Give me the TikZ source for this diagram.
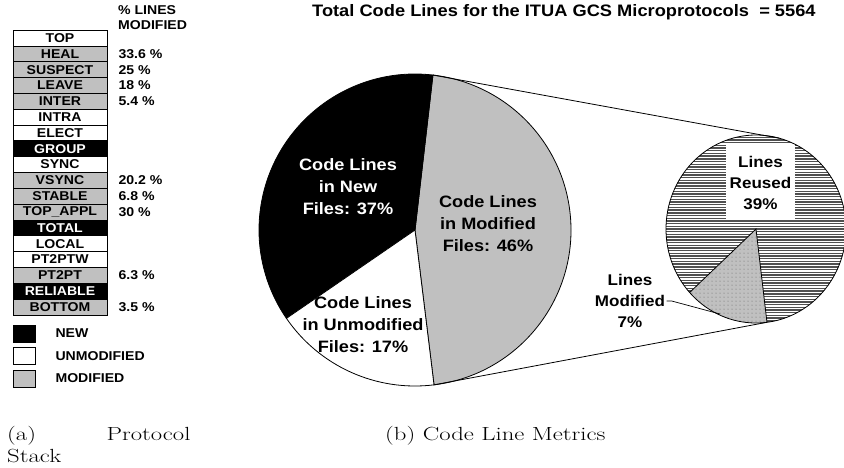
\documentclass[tikz,border=0pt]{standalone}
\usepackage{fontspec}
\usepackage{graphicx}
\setsansfont{Liberation Sans}[FakeStretch=1.1]
\definecolor{modgray}{RGB}{192,192,192}
\definecolor{hatchgray}{RGB}{80,80,80}
\definecolor{dotgray}{RGB}{100,100,100}

\begin{document}
\begin{tikzpicture}[x=1pt,y=-1pt,
  sfb/.style={font=\sffamily\bfseries\fontsize{12.8}{15}\selectfont},
  layer/.style={sfb, draw=black, line width=0.7pt, minimum width=94pt,
    minimum height=15.82pt, inner sep=0},
  lw/.style={fill=white, text=black},
  lg/.style={fill=modgray, text=black},
  lb/.style={fill=black, text=white},
  pctlbl/.style={sfb, anchor=west, inner sep=0},
  legbox/.style={draw=black, line width=0.7pt, minimum width=22pt,
    minimum height=17pt, inner sep=0},
  pielbl/.style={font=\sffamily\bfseries\fontsize{16.5}{22}\selectfont,
    align=center, inner sep=0},
  smalllbl/.style={font=\sffamily\bfseries\fontsize{15.5}{21}\selectfont,
    align=center},
  rim/.style={draw=black, line width=0.8pt},
  capfnt/.style={font=\rmfamily\mdseries\fontsize{19}{22}\selectfont,
    inner sep=0, anchor=base west}
]
\useasboundingbox (0,0) rectangle (844,467);

% ---- protocol stack ----
\node[sfb, anchor=north west, align=left, inner sep=0] (hdr) at (118,5)
  {\% LINES\\MODIFIED};
\foreach \name/\kind [count=\i] in {TOP/lw, HEAL/lg, SUSPECT/lg, LEAVE/lg,
    INTER/lg, INTRA/lw, ELECT/lw, GROUP/lb, SYNC/lw, VSYNC/lg, STABLE/lg,
    TOP\_APPL/lg, TOTAL/lb, LOCAL/lw, PT2PTW/lw, PT2PT/lg, RELIABLE/lb,
    BOTTOM/lg}
  \node[layer, \kind] (row\i) at (60,{30.1+15.82*(\i-0.5)}) {\name};
\foreach \i/\p in {2/33.6, 3/25, 4/18, 5/5.4, 10/20.2, 11/6.8, 12/30,
    16/6.3, 18/3.5}
  \node[pctlbl] (pct\i) at ([xshift=11pt]row\i.east) {\p\ \%};

% ---- legend ----
\node[legbox, fill=black]   (legnew) at (24,333.5) {};
\node[legbox, fill=white]   (legunm) at (24,356)   {};
\node[legbox, fill=modgray] (legmod) at (24,378.5) {};
\node[sfb, anchor=west] at (52,333.5) (txtnew) {NEW};
\node[sfb, anchor=west] at (52,356)   (txtunm) {UNMODIFIED};
\node[sfb, anchor=west] at (52,378.5) (txtmod) {MODIFIED};

% ---- title ----
\node[font=\sffamily\bfseries\fontsize{16.6}{18}\selectfont, anchor=west,
  inner sep=0] (title) at (312,12)
  {Total Code Lines for the ITUA GCS Microprotocols~ = 5564};

% ---- large pie ----
\begin{scope}[shift={(415,230)}, yscale=-1]
  \filldraw[rim, fill=modgray] (0,0) -- (-83:156)
    arc[start angle=-83, end angle=83.4, radius=156] -- cycle;
  \filldraw[rim, fill=black] (0,0) -- (83.4:156)
    arc[start angle=83.4, end angle=214.5, radius=156] -- cycle;
  \filldraw[rim, fill=white] (0,0) -- (214.5:156)
    arc[start angle=214.5, end angle=277, radius=156] -- cycle;
  \coordinate (bigtop) at (83.4:156);
  \coordinate (bigbot) at (-83:156);
\end{scope}

% ---- small pie ----
\begin{scope}[shift={(756,229)}, yscale=-1]
  \begin{scope}
    \clip (0,0) -- (277:90 and 94)
      arc[start angle=277, end angle=582.5, x radius=90, y radius=94] -- cycle;
    \fill[white] (-100,-100) rectangle (100,100);
    \foreach \k in {-36,...,36}
      \draw[hatchgray, line width=1.4pt] (-100,{\k*2.7}) -- (100,{\k*2.7});
  \end{scope}
  \begin{scope}
    \clip (0,0) -- (222.5:90 and 94)
      arc[start angle=222.5, end angle=277, x radius=90, y radius=94] -- cycle;
    \fill[modgray] (-100,-100) rectangle (100,100);
    \foreach \u in {-88,-84,...,16}
      \foreach \v in {-96,-92,...,0}
        \fill[dotgray] (\u,\v) circle[radius=0.5];
  \end{scope}
  \draw[rim] (0,0) ellipse[x radius=90, y radius=94];
  \draw[rim] (222.5:90 and 94) -- (0,0) -- (277:90 and 94);
  \coordinate (smalltop) at (75:90 and 94);
  \coordinate (smallbot) at (277:90 and 94);
\end{scope}

% ---- zoom connectors ----
\draw[line width=0.8pt] (bigtop) -- (smalltop);
\draw[line width=0.8pt] (bigbot) -- (smallbot);

% ---- pie labels ----
\node[pielbl, text=white] (newlbl) at (348,187)
  {Code Lines\\in New\\Files: 37\%};
\node[pielbl] (modlbl) at (488,224)
  {Code Lines\\in Modified\\Files: 46\%};
\node[pielbl] (unmlbl) at (363,325)
  {Code Lines\\in Unmodified\\Files: 17\%};
\node[smalllbl, fill=white, minimum width=69pt, minimum height=75pt,
  inner sep=2pt] (reusedlbl) at (760.5,182.5) {Lines\\Reused\\39\%};
\node[smalllbl, inner sep=1.5pt] (modlinelbl) at (630,301)
  {Lines\\Modified\\7\%};
\coordinate (leadend) at (720,314);
\draw[line width=0.7pt] (modlinelbl.east) -- ++(5,0) -- (leadend);

% ---- captions ----
\node[capfnt] (capa1) at (7,440)
  {\scalebox{1.3}[1]{\makebox[141pt][s]{(a)\hfill Protocol}}};
\node[capfnt] (capa2) at (7,462) {\scalebox{1.3}[1]{Stack}};
\node[capfnt] (capb) at (385,440)
  {\scalebox{1.3}[1]{(b) Code Line Metrics}};
\end{tikzpicture}
\end{document}
